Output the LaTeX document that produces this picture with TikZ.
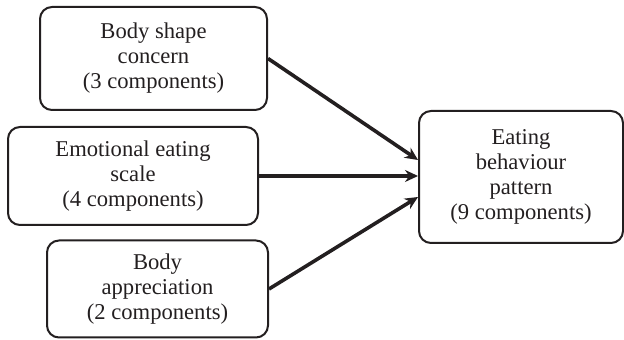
\documentclass[tikz,border=0pt]{standalone}
\usepackage{fontspec}
\setmainfont{Liberation Serif}
\usetikzlibrary{arrows.meta}
\definecolor{ink}{HTML}{231F20}

\begin{document}
\begin{tikzpicture}[x=0.5pt,y=-0.5pt,
    factor/.style={draw=ink,line width=1pt,rounded corners=6pt,align=center,
      inner sep=0pt,text=ink,font=\fontsize{11.3}{12.5}\selectfont},
    arr/.style={draw=ink,line width=1.8pt,-{Stealth[length=6.5pt,width=6pt]}}]
      \useasboundingbox (0,0) rectangle (624,340);
      \node[factor,minimum width=113.5pt,minimum height=51.5pt] (b1) at (153.5,58.5)
        {Body shape\\concern\\(3 components)};
      \node[factor,minimum width=125pt,minimum height=49pt] (b2) at (133,176)
        {Emotional eating\\scale\\(4 components)};
      \node[factor,minimum width=110.5pt,minimum height=48.5pt] (b3) at (157.5,289)
        {Body\\appreciation\\(2 components)};
      \node[factor,minimum width=102pt,minimum height=66pt] (b4) at (521,177)
        {Eating\\behaviour\\pattern\\(9 components)};
      \draw[arr] (b1.east) -- ([yshift=8.5pt]b4.west);
      \draw[arr] (b2.east) -- (b2.east -| b4.west);
      \draw[arr] (b3.east) -- ([yshift=-10pt]b4.west);
    \end{tikzpicture}
\end{document}
